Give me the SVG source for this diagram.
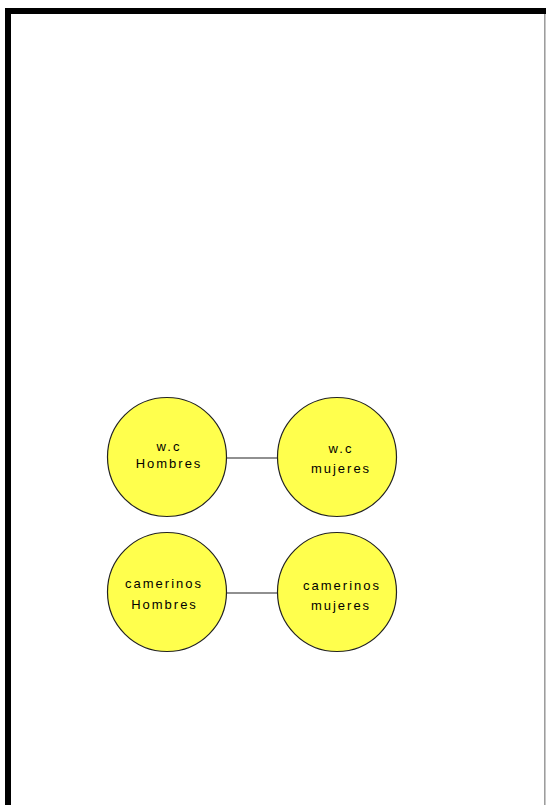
<svg xmlns="http://www.w3.org/2000/svg" width="546" height="805" viewBox="0 0 546 805">
<style>
.node circle{fill:#ffff4d;stroke:#222;stroke-width:1.2}
.node text{font-family:"Liberation Sans",Arial,sans-serif;font-size:13px;letter-spacing:2px;fill:#000;text-anchor:middle}
.conn line{stroke:#222;stroke-width:1.2}
</style>
<rect x="0" y="0" width="546" height="805" fill="#fff"/>
<line x1="544.8" y1="14" x2="544.8" y2="805" stroke="#999" stroke-width="1.5"/>
<path d="M8,805 V11 H546" fill="none" stroke="#000" stroke-width="6"/>
<g class="conn">
<line x1="226" y1="458" x2="278" y2="458"/>
<line x1="226" y1="593" x2="278" y2="593"/>
</g>
<g id="wc-hombres" class="node">
<circle cx="167" cy="457" r="59.5"/>
<text x="169" y="450.5">w.c</text>
<text x="169" y="468">Hombres</text>
</g>
<g id="wc-mujeres" class="node">
<circle cx="337" cy="457" r="59.5"/>
<text x="341" y="452.5">w.c</text>
<text x="341" y="472.5">mujeres</text>
</g>
<g id="camerinos-hombres" class="node">
<circle cx="167" cy="592" r="59.5"/>
<text x="164" y="588">camerinos</text>
<text x="164.5" y="609">Hombres</text>
</g>
<g id="camerinos-mujeres" class="node">
<circle cx="337" cy="592" r="59.5"/>
<text x="342" y="590">camerinos</text>
<text x="341" y="610">mujeres</text>
</g>
</svg>
